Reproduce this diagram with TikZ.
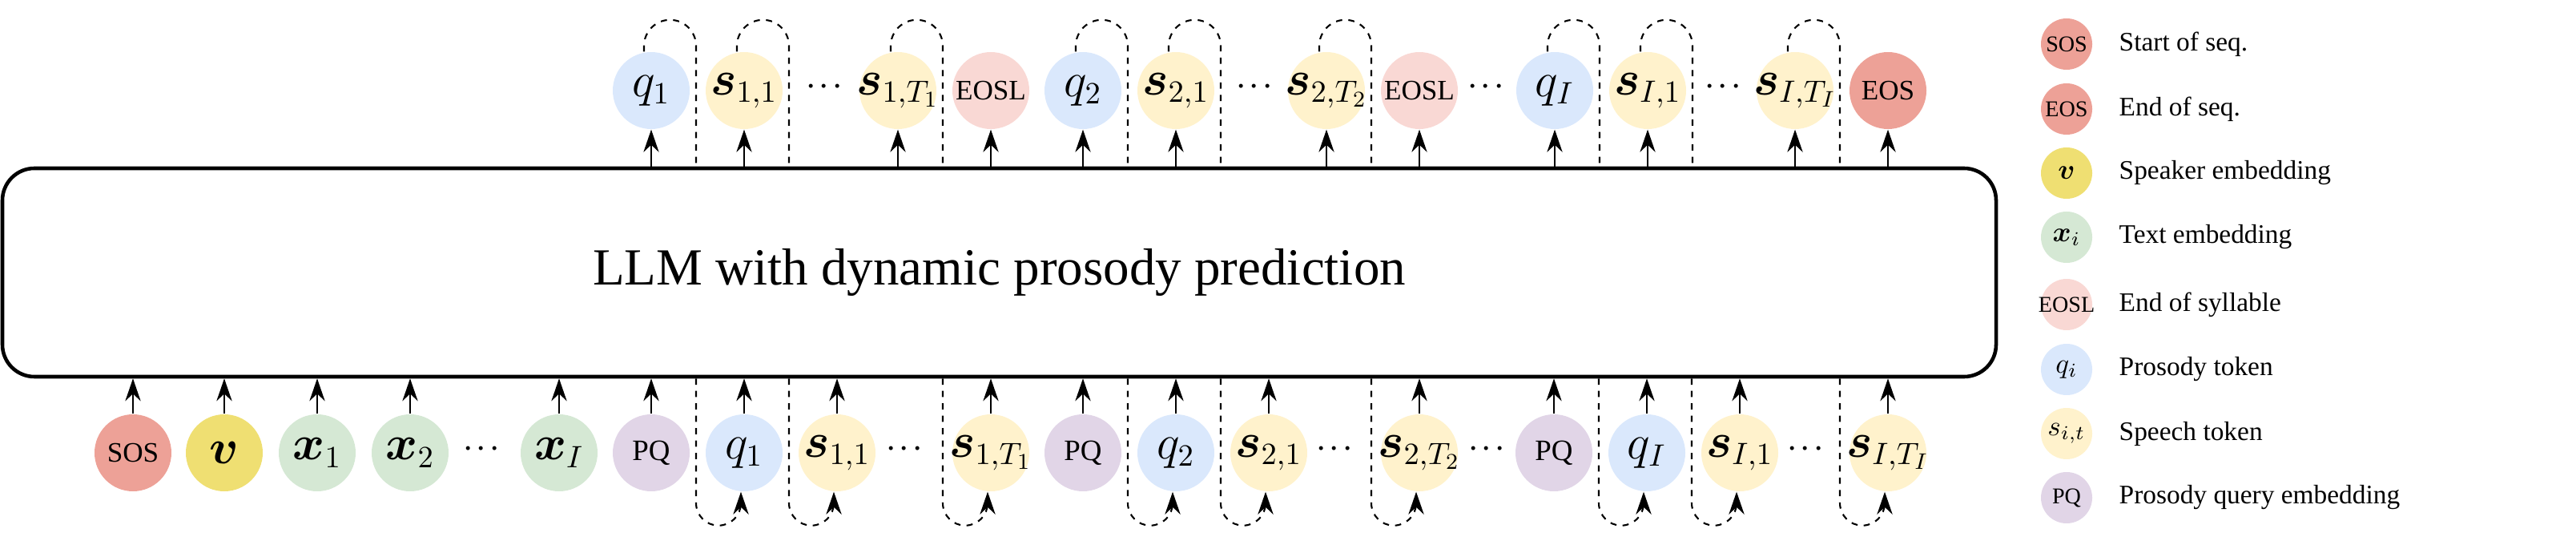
\documentclass[tikz,border=0pt]{standalone}
\usepackage{fontspec}
\setmainfont{Liberation Serif}
\usepackage{amsmath,bm}
\usetikzlibrary{arrows.meta, positioning}
\definecolor{sosred}{HTML}{EDA197}
\definecolor{spkyellow}{HTML}{EFDF72}
\definecolor{txtgreen}{HTML}{D5E8D4}
\definecolor{eoslpink}{HTML}{F9D8D4}
\definecolor{prosblue}{HTML}{DAE8FC}
\definecolor{speechyellow}{HTML}{FFF2CC}
\definecolor{pqpurple}{HTML}{E1D5E7}
\newcommand{\tokbox}[1]{\makebox[0pt]{#1}}

\begin{document}
\begin{tikzpicture}[>={Stealth[length=8pt,width=5.5pt]}]
% Define styles
\tikzset{
  tok/.style={circle, minimum size=0.96cm, inner sep=0pt, font=\fontsize{10}{12}\selectfont},
  mtok/.style={tok, font=\fontsize{16}{18}\selectfont},
  sos/.style={tok, fill=sosred},
  spk/.style={mtok, fill=spkyellow},
  txt/.style={mtok, fill=txtgreen},
  eosl/.style={tok, fill=eoslpink},
  pros/.style={mtok, fill=prosblue},
  spt/.style={mtok, fill=speechyellow},
  pq/.style={tok, fill=pqpurple, font=\fontsize{10.5}{12}\selectfont},
  dotsbox/.style={inner sep=0pt, font=\fontsize{9}{10}\selectfont},
  loop/.style={dash pattern=on 2.2pt off 2.2pt, line width=0.6pt},
  lgd/.style={circle, minimum size=0.64cm, inner sep=0pt, font=\fontsize{8}{9}\selectfont},
  lgdtext/.style={anchor=west, inner sep=0pt, font=\fontsize{9.5}{11}\selectfont}
}
\useasboundingbox (0,0) rectangle (32.16,6.84);

% LLM block
\node (llm) [draw, line width=1.3pt, rounded corners=0.4cm, minimum width=24.89cm, minimum height=2.6cm] at (12.475,3.44) {\fontsize{18.5}{22}\selectfont LLM with dynamic prosody prediction};

% Input tokens
\foreach \x/\s/\l/\n in {1.66/sos/{SOS}/i1, 2.80/spk/{$\bm{v}$}/i2, 3.96/txt/{$\bm{x}_1$}/i3, 5.12/txt/{$\bm{x}_2$}/i4,
  6.98/txt/{$\bm{x}_I$}/i5, 8.13/pq/{PQ}/i6, 9.29/pros/{$q_1$}/i7, 10.45/spt/{$\bm{s}_{1,1}$}/i8, 12.37/spt/{$\bm{s}_{1,T_1}$}/i9,
  13.52/pq/{PQ}/i10, 14.68/pros/{$q_2$}/i11, 15.84/spt/{$\bm{s}_{2,1}$}/i12, 17.72/spt/{$\bm{s}_{2,T_2}$}/i13,
  19.40/pq/{PQ}/i14, 20.56/pros/{$q_I$}/i15, 21.72/spt/{$\bm{s}_{I,1}$}/i16, 23.57/spt/{$\bm{s}_{I,T_I}$}/i17}
{
  \node (\n) [\s] at (\x,1.19) {\tokbox{\l}};
  \draw[->] (\n.north) -- (\n.north |- llm.south);
}
\foreach \x/\n in {6.04/bd1, 11.32/bd2, 16.69/bd3, 18.59/bd4, 22.57/bd5}
  \node (\n) [dotsbox] at (\x,1.24) {$\bm{\cdots}$};

% Output tokens
\foreach \x/\s/\l/\n in {8.13/pros/{$q_1$}/o1, 9.29/spt/{$\bm{s}_{1,1}$}/o2, 11.21/spt/{$\bm{s}_{1,T_1}$}/o3, 12.37/eosl/{EOSL}/o4,
  13.52/pros/{$q_2$}/o5, 14.68/spt/{$\bm{s}_{2,1}$}/o6, 16.56/spt/{$\bm{s}_{2,T_2}$}/o7, 17.72/eosl/{EOSL}/o8,
  19.41/pros/{$q_I$}/o9, 20.57/spt/{$\bm{s}_{I,1}$}/o10, 22.41/spt/{$\bm{s}_{I,T_I}$}/o11, 23.57/sos/{EOS}/o12}
{
  \node (\n) [\s] at (\x,5.71) {\tokbox{\l}};
  \draw[->] (\n.south |- llm.north) -- (\n.south);
}
\foreach \x/\n in {10.32/td1, 15.69/td2, 18.58/td3, 21.54/td4}
  \node (\n) [dotsbox] at (\x,5.76) {$\bm{\cdots}$};

% Feedback loops (output -> next input)
\foreach \o/\i in {o1/i7, o2/i8, o3/i9, o5/i11, o6/i12, o7/i13, o9/i15, o10/i16, o11/i17}
{
  \draw[loop] ([xshift=-0.09cm]\o.north) -- ++(0,0.07) arc[start angle=180, end angle=0, radius=0.325]
    -- ([xshift=0.56cm]\o.north |- llm.north);
  \draw[loop, ->] ([xshift=-0.60cm]\i.south |- llm.south) -- ([xshift=-0.60cm,yshift=-0.14cm]\i.south)
    arc[start angle=180, end angle=360, radius=0.28] -- ([xshift=-0.04cm]\i.south);
}

% Legend
\node (l1) [lgd, fill=sosred] at (25.80,6.29) {\tokbox{SOS}};
\node (l2) [lgd, fill=sosred] at (25.80,5.48) {\tokbox{EOS}};
\node (l3) [lgd, fill=spkyellow, font=\fontsize{10}{12}\selectfont] at (25.80,4.68) {$\bm{v}$};
\node (l4) [lgd, fill=txtgreen, font=\fontsize{10}{12}\selectfont] at (25.80,3.88) {$\bm{x}_i$};
\node (l5) [lgd, fill=eoslpink] at (25.80,3.04) {\tokbox{EOSL}};
\node (l6) [lgd, fill=prosblue, font=\fontsize{10}{12}\selectfont] at (25.80,2.23) {$q_i$};
\node (l7) [lgd, fill=speechyellow, font=\fontsize{10}{12}\selectfont] at (25.80,1.43) {$s_{i,t}$};
\node (l8) [lgd, fill=pqpurple] at (25.80,0.63) {PQ};
\node [lgdtext] at (26.45,6.29) {Start of seq.};
\node [lgdtext] at (26.45,5.48) {End of seq.};
\node [lgdtext] at (26.45,4.68) {Speaker embedding};
\node [lgdtext] at (26.45,3.88) {Text embedding};
\node [lgdtext] at (26.45,3.04) {End of syllable};
\node [lgdtext] at (26.45,2.23) {Prosody token};
\node [lgdtext] at (26.45,1.43) {Speech token};
\node [lgdtext] at (26.45,0.63) {Prosody query embedding};

\end{tikzpicture}
\end{document}
